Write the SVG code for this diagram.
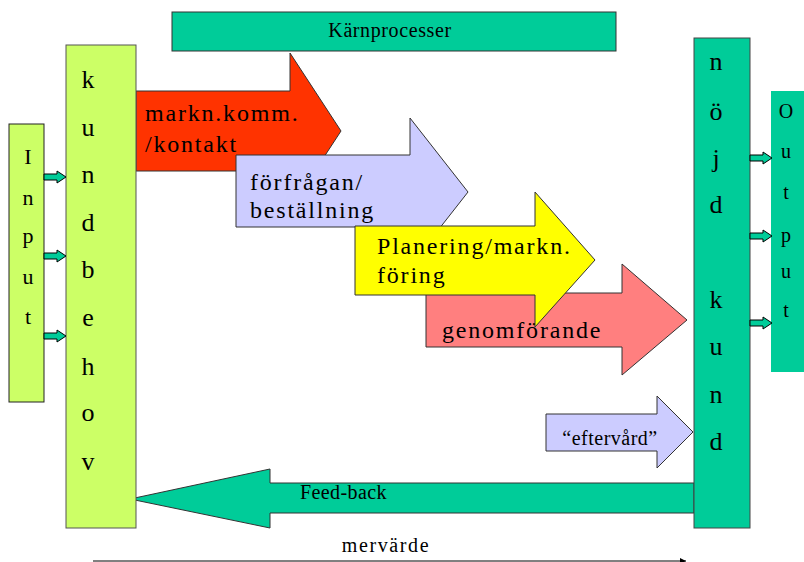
<svg xmlns="http://www.w3.org/2000/svg" width="804" height="562" viewBox="0 0 804 562" font-family="'Liberation Serif', 'Times New Roman', serif">
  <defs>
    <marker id="head" viewBox="0 0 10 10" refX="10" refY="5" markerWidth="8" markerHeight="6" markerUnits="userSpaceOnUse" orient="auto">
      <path d="M0,0 L10,5 L0,10 z" fill="#000"/>
    </marker>
    <path id="small-arrow" d="M0,-3 H13 V-6 L22,0 L13,6 V3 H0 z"/>
  </defs>
  <style>
    text { font-family: 'Liberation Serif', 'Times New Roman', serif; fill: #000; }
    .big { font-size: 24px; letter-spacing: 1.8px; }
    .col { font-size: 26px; }
    .mid { font-size: 22px; }
    .out { font-size: 20px; }
    .small { font-size: 20px; }
    .ctr { text-anchor: middle; }
    .teal { fill: #00CC99; }
    .lime { fill: #CCFF66; }
    .edge { stroke: #333; stroke-width: 1; }
    .sa { fill: #00CC99; stroke: #000; stroke-width: 1; }
  </style>
  <rect width="804" height="562" fill="#fff"/>

  <!-- top banner -->
  <g id="karnprocesser">
    <rect x="172" y="12" width="444" height="39" class="teal edge"/>
    <text x="390" y="37" class="small ctr" letter-spacing="0.6">Kärnprocesser</text>
  </g>

  <!-- process arrows -->
  <g id="markn">
    <path d="M136,91 H290 V53 L341,131 L290,209 V171 H136 z" fill="#FF3300" class="edge"/>
    <text x="145" y="121" class="big">markn.komm.</text>
    <text x="145" y="152" class="big">/kontakt</text>
  </g>
  <g id="forfragan">
    <path d="M236,155 H410 V118 L468,192 L410,266 V227 H236 z" fill="#CCCCFF" class="edge"/>
    <text x="250" y="190" class="big">förfrågan/</text>
    <text x="250" y="218" class="big">beställning</text>
  </g>
  <g id="genomforande">
    <path d="M426,293 H622 V264 L687,320 L622,375 V347 H426 z" fill="#FF7F7F" class="edge"/>
    <text x="442" y="338" class="big">genomförande</text>
  </g>
  <g id="planering">
    <path d="M355,226 H535 V192 L595,260 L535,327 V295 H355 z" fill="#FFFF00" class="edge"/>
    <text x="377" y="254" class="big">Planering/markn.</text>
    <text x="377" y="283" class="big">föring</text>
  </g>
  <g id="eftervard">
    <path d="M546,414 H657 V396 L693,432 L657,468 V451 H546 z" fill="#CCCCFF" class="edge"/>
    <text x="610" y="445" class="small ctr" letter-spacing="0.5">“eftervård”</text>
  </g>

  <!-- feedback arrow -->
  <g id="feedback">
    <path d="M694,483 H270 V469 L130,499 L270,528 V513 H694 z" class="teal edge"/>
    <text x="300" y="499" class="small" letter-spacing="0.4">Feed-back</text>
  </g>

  <!-- side columns -->
  <g id="input">
    <rect x="9" y="124" width="35" height="278" class="lime" stroke="#222" stroke-width="1"/>
    <g class="mid ctr">
      <text x="28" y="164">I</text>
      <text x="28" y="205">n</text>
      <text x="28" y="243">p</text>
      <text x="28" y="284">u</text>
      <text x="28" y="324">t</text>
    </g>
  </g>
  <g id="kundbehov">
    <rect x="66" y="45" width="70" height="483" class="lime" stroke="#555" stroke-width="1"/>
    <g class="col ctr">
      <text x="88" y="88">k</text>
      <text x="88" y="136">u</text>
      <text x="88" y="183">n</text>
      <text x="88" y="231">d</text>
      <text x="88" y="278">b</text>
      <text x="88" y="326">e</text>
      <text x="88" y="375">h</text>
      <text x="88" y="421">o</text>
      <text x="88" y="470">v</text>
    </g>
  </g>
  <g id="nojd-kund">
    <rect x="694" y="38" width="56" height="490" class="teal" stroke="#444" stroke-width="1"/>
    <g class="col ctr">
      <text x="716" y="70">n</text>
      <text x="716" y="120">ö</text>
      <text x="716" y="167">j</text>
      <text x="716" y="213">d</text>
      <text x="716" y="308">k</text>
      <text x="716" y="355">u</text>
      <text x="716" y="403">n</text>
      <text x="716" y="450">d</text>
    </g>
  </g>
  <g id="output">
    <rect x="771" y="91" width="33" height="281" class="teal"/>
    <g class="out ctr">
      <text x="786" y="118">O</text>
      <text x="786" y="158">u</text>
      <text x="786" y="199">t</text>
      <text x="786" y="242">p</text>
      <text x="786" y="278">u</text>
      <text x="786" y="317">t</text>
    </g>
  </g>

  <!-- connectors -->
  <g id="connectors">
    <use href="#small-arrow" class="sa" transform="translate(44,177)"/>
    <use href="#small-arrow" class="sa" transform="translate(44,256)"/>
    <use href="#small-arrow" class="sa" transform="translate(44,336)"/>
    <use href="#small-arrow" class="sa" transform="translate(750,158)"/>
    <use href="#small-arrow" class="sa" transform="translate(750,236)"/>
    <use href="#small-arrow" class="sa" transform="translate(750,323)"/>
    <line x1="93" y1="561" x2="686" y2="561" stroke="#000" stroke-width="1" marker-end="url(#head)"/>
    <text x="386" y="552" class="small ctr" letter-spacing="1.6">mervärde</text>
  </g>
</svg>
